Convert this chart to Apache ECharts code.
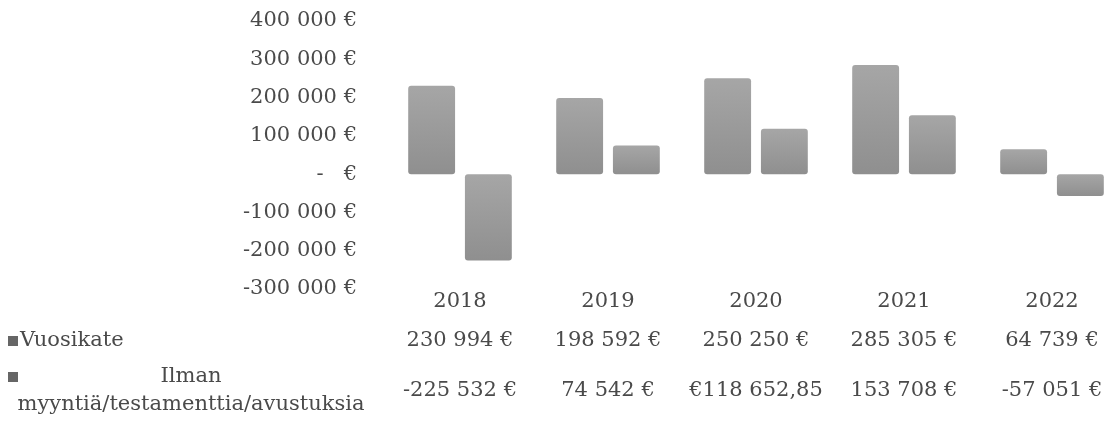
<!DOCTYPE html>
<html>
<head>
<meta charset="utf-8">
<script src="https://cdn.jsdelivr.net/npm/echarts@6/dist/echarts.min.js"></script>
<style>
  html, body { margin: 0; padding: 0; background: #fff; }
  #main { width: 1108px; height: 423px; }
</style>
</head>
<body>
<div id="main"></div>
<script>
//vuodet
var years = ['2018', '2019', '2020', '2021', '2022'];
//sarjat
var vuosikate = [230994, 198592, 250250, 285305, 64739];
var ilman = [-225532, 74542, 118652.85, 153708, -57051];
//taulukon tekstit
var vuosikateText = ['230 994 €', '198 592 €', '250 250 €', '285 305 €', '64 739 €'];
var ilmanText = ['-225 532 €', '74 542 €', '€118 652,85', '153 708 €', '-57 051 €'];
var seriesNames = ['Vuosikate', 'Ilman myyntiä/testamenttia/avustuksia'];

var font = '"DejaVu Serif", serif'
  ,fontSize = 21
  ,txtColor = '#4a4a4a';

var fmt = function(v){
  if(v === 0) return '-   €';
  var s = Math.abs(v).toString().replace(/\B(?=(\d{3})+(?!\d))/g, ' ');
  return (v < 0 ? '-' : '') + s + ' €';
};

var barColor = new echarts.graphic.LinearGradient(0, 0, 0, 1, [
  {offset: 0, color: '#a6a6a6'},
  {offset: 1, color: '#8f8f8f'}
]);

//taulukon rivit x-akseleina
var tableAxis = function(data, offset){
  return {
    type: 'category'
    ,data: data
    ,position: 'bottom'
    ,offset: offset
    ,axisLine: {show: false}
    ,axisTick: {show: false}
    ,splitLine: {show: false}
    ,axisLabel: {margin: 2, fontFamily: font, fontSize: fontSize, color: txtColor, interval: 0}
  };
};

var chart = echarts.init(document.getElementById('main'), null, {renderer: 'canvas'});
chart.setOption({
  backgroundColor: '#fff'
  ,animation: false
  ,grid: {left: 386, width: 740, top: 21, bottom: 134, containLabel: false, outerBoundsMode: 'none'}
  ,xAxis: [
    {
      type: 'category'
      ,data: years
      ,position: 'bottom'
      ,axisLine: {show: false, onZero: false}
      ,axisTick: {show: false}
      ,axisLabel: {margin: 2, fontFamily: font, fontSize: fontSize, color: txtColor}
    }
    ,tableAxis(vuosikateText, 39)
    ,tableAxis(ilmanText, 89)
  ]
  ,yAxis: {
    type: 'value'
    ,min: -300000
    ,max: 400000
    ,interval: 100000
    ,axisLine: {show: false}
    ,axisTick: {show: false}
    ,splitLine: {show: false}
    ,axisLabel: {margin: 29, fontFamily: font, fontSize: fontSize, color: txtColor, formatter: fmt}
  }
  ,series: [
    {
      name: seriesNames[0]
      ,type: 'bar'
      ,data: vuosikate
      ,barCategoryGap: '30%'
      ,barGap: '21%'
      ,itemStyle: {color: barColor, borderRadius: 3}
    }
    ,{
      name: seriesNames[1]
      ,type: 'bar'
      ,data: ilman
      ,barCategoryGap: '30%'
      ,barGap: '21%'
      ,itemStyle: {color: barColor, borderRadius: 3}
    }
  ]
  ,graphic: [
    {type: 'rect', x: 8, y: 336, shape: {width: 10, height: 10}, style: {fill: '#666'}}
    ,{type: 'text', x: 20, y: 341, style: {
      text: seriesNames[0], font: fontSize + 'px ' + font, fill: txtColor, verticalAlign: 'middle'
    }}
    ,{type: 'rect', x: 8, y: 372, shape: {width: 10, height: 10}, style: {fill: '#666'}}
    ,{type: 'text', x: 191, y: 363, style: {
      text: 'Ilman\nmyyntiä/testamenttia/avustuksia'
      ,font: fontSize + 'px ' + font
      ,fill: txtColor
      ,align: 'center'
      ,verticalAlign: 'top'
      ,lineHeight: 28
    }}
  ]
});
</script>
</body>
</html>
